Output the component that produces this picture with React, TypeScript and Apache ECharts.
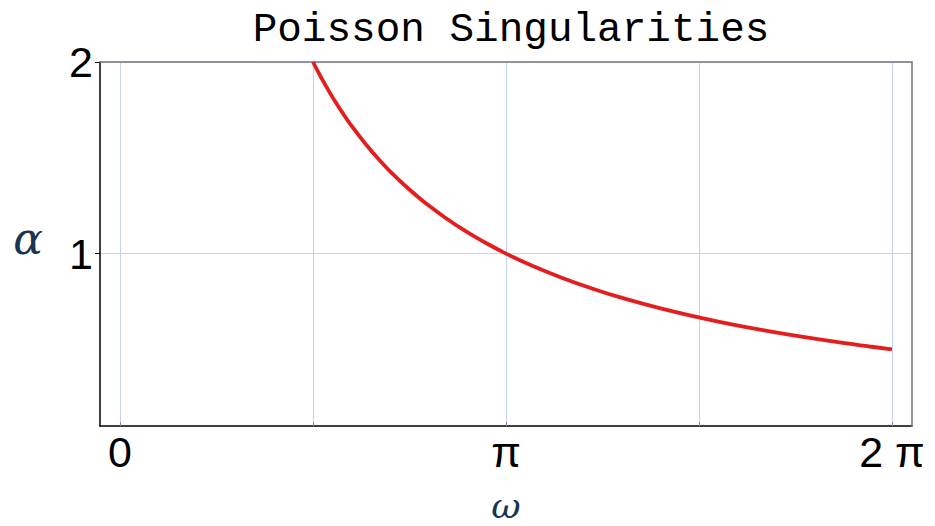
import React, { useEffect, useRef } from "react";
import * as echarts from "echarts";

const PI = Math.PI;
const titleText = "Poisson Singularities";
const xTickValues = [0, PI / 2, PI, (3 * PI) / 2, 2 * PI];
const xLabelValues = [0, PI, 2 * PI];
const xLabelTexts = ["0", "π", "2 π"];
const yLabelValues = [1, 2];
const omega = [1.571, 1.62, 1.68, 1.75, 1.82, 1.9, 2.0, 2.1, 2.2, 2.35, 2.5, 2.65, 2.8, 2.95, 3.142, 3.35, 3.6, 3.85, 4.1, 4.4, 4.712, 5.0, 5.3, 5.6, 5.9, 6.1, 6.283];
const alpha = [2.0, 1.939, 1.87, 1.795, 1.726, 1.653, 1.571, 1.496, 1.428, 1.337, 1.257, 1.186, 1.122, 1.065, 1.0, 0.938, 0.873, 0.816, 0.766, 0.714, 0.667, 0.628, 0.593, 0.561, 0.532, 0.515, 0.5];

const X_MIN = -0.163;
const X_MAX = 6.446;
const Y_MIN = 0.1;
const Y_MAX = 2;

export default function App() {
  const ref = useRef<HTMLDivElement>(null);
  useEffect(() => {
    const chart = echarts.init(ref.current!, null, { renderer: "svg" });
    const data = omega.map((w, i) => [w, alpha[i]]);
    const labelFont = { fontFamily: "Liberation Sans", fontSize: 43, color: "#000" };
    chart.setOption({
      animation: false,
      title: {
        text: titleText,
        left: 506,
        textAlign: "center",
        top: 4,
        textStyle: { fontFamily: "Liberation Mono", fontSize: 41, fontWeight: "normal", color: "#000" },
      },
      grid: { left: 100, right: 23, top: 62, bottom: 100, outerBoundsMode: "none", containLabel: false },
      xAxis: [
        {
          type: "value",
          min: X_MIN,
          max: X_MAX,
          name: "ω",
          nameLocation: "middle",
          nameGap: 61,
          nameTextStyle: { fontFamily: "DejaVu Serif", fontStyle: "italic", fontSize: 36, color: "#1a3550" },
          axisLine: { show: true, onZero: false, lineStyle: { color: "#000", width: 1.5 } },
          axisTick: { show: true, inside: true, length: 4, customValues: xTickValues, lineStyle: { color: "#888" } },
          axisLabel: {
            customValues: xLabelValues,
            formatter: (v: number) => {
              const i = xLabelValues.findIndex((x) => Math.abs(x - v) < 1e-6);
              return i >= 0 ? xLabelTexts[i] : "";
            },
            ...labelFont,
            margin: 4,
          },
          splitLine: { show: true, lineStyle: { color: "#c2d4f6", width: 1 } },
          z: 2,
        },
        {
          type: "value",
          position: "top",
          min: X_MIN,
          max: X_MAX,
          axisLine: { show: true, onZero: false, lineStyle: { color: "#777", width: 1.5 } },
          axisTick: { show: false },
          axisLabel: { show: false },
          splitLine: { show: false },
          z: 3,
        },
      ],
      yAxis: [
        {
          type: "value",
          min: Y_MIN,
          max: Y_MAX,
          name: "α",
          nameLocation: "middle",
          nameGap: 57,
          nameRotate: 0,
          nameTextStyle: { fontFamily: "DejaVu Serif", fontStyle: "italic", fontSize: 44, lineHeight: 12, verticalAlign: "bottom", color: "#1a3550" },
          axisLine: { show: true, onZero: false, lineStyle: { color: "#000", width: 1.5 } },
          axisTick: { show: true, inside: false, length: 5, customValues: yLabelValues, lineStyle: { color: "#000" } },
          axisLabel: { customValues: yLabelValues, ...labelFont, margin: 7 },
          splitLine: { show: true, lineStyle: { color: "#c2d4f6", width: 1 } },
          z: 1,
        },
        {
          type: "value",
          position: "right",
          min: Y_MIN,
          max: Y_MAX,
          axisLine: { show: true, onZero: false, lineStyle: { color: "#777", width: 1.5 } },
          axisTick: { show: false },
          axisLabel: { show: false },
          splitLine: { show: false },
          z: 3,
        },
      ],
      series: [
        {
          type: "line",
          data,
          smooth: true,
          showSymbol: false,
          lineStyle: { color: "#e41e1e", width: 3.8 },
          z: 5,
        },
      ],
    });
    return () => chart.dispose();
  }, []);
  return <div ref={ref} style={{ width: 935, height: 526, position: "absolute", left: 0, top: 0 }} />;
}
